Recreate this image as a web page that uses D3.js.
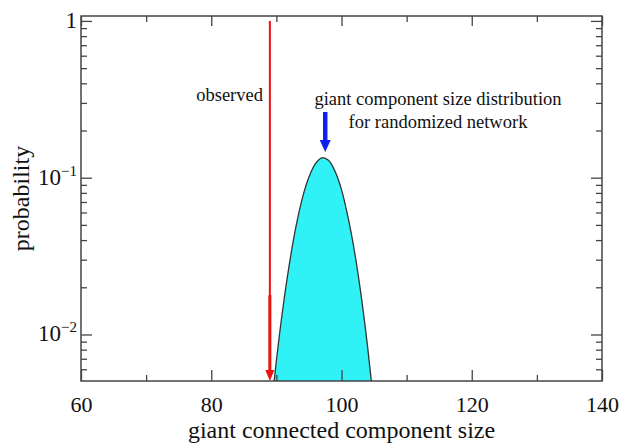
<!DOCTYPE html>
<html><head><meta charset="utf-8">
<script src="https://cdn.jsdelivr.net/npm/d3@7"></script>
<style>body{margin:0;background:#fff}svg{display:block}text{font-family:"Liberation Serif","DejaVu Serif",serif;fill:#111}</style>
</head><body>
<script>
// data
const sizes = [89, 90, 91, 92, 93, 94, 95, 96, 97, 98, 99, 100, 101, 102, 103, 104, 105, 106];
const probs = [0.0028, 0.0068, 0.0147, 0.0282, 0.0485, 0.0743, 0.101, 0.123, 0.134, 0.129, 0.110, 0.084, 0.056, 0.0337, 0.0179, 0.0084, 0.0035, 0.0013];
const observed = 89;
const peakSize = 97.5;
const xMajor = [60, 80, 100, 120, 140];
const xMinor = [70, 90, 110, 130];
const yMajor = [1, 0.1, 0.01];
const yMajorLabels = [["1", ""], ["10", "\u22121"], ["10", "\u22122"]];

const W = 619, H = 445;
const m = {l: 81, r: 17, t: 16, b: 64};
const svg = d3.select("body").append("svg").attr("width", W).attr("height", H);
const x = d3.scaleLinear().domain([60, 140]).range([m.l, W - m.r]);
const y = d3.scaleLog().domain([0.00505, 1.075]).range([H - m.b, m.t]);

svg.append("defs").append("clipPath").attr("id", "clip")
  .append("rect").attr("x", m.l).attr("y", m.t).attr("width", W - m.l - m.r).attr("height", H - m.t - m.b);

const pts = sizes.map((s, i) => [s, probs[i]]);
const g = svg.append("g").attr("clip-path", "url(#clip)");
g.append("path").datum(pts)
  .attr("d", d3.area().x(d => x(d[0])).y0(H - m.b + 5).y1(d => y(d[1])).curve(d3.curveCatmullRom))
  .attr("fill", "#30f2f6");
g.append("path").datum(pts)
  .attr("d", d3.line().x(d => x(d[0])).y(d => y(d[1])).curve(d3.curveCatmullRom))
  .attr("fill", "none").attr("stroke", "#333").attr("stroke-width", 1.3);

// frame
const frame = "#444";
svg.append("rect").attr("x", m.l).attr("y", m.t).attr("width", W - m.l - m.r).attr("height", H - m.t - m.b)
  .attr("fill", "none").attr("stroke", frame).attr("stroke-width", 1.5);

// axes with inward ticks
const gBottom = svg.append("g").attr("transform", `translate(0,${H - m.b})`);
gBottom.call(d3.axisBottom(x).tickValues(xMajor).tickSize(-11).tickPadding(15).tickFormat(d3.format("d")));
gBottom.append("g").call(d3.axisBottom(x).tickValues(xMinor).tickSize(-6).tickFormat(""));
const gTop = svg.append("g").attr("transform", `translate(0,${m.t})`);
gTop.call(d3.axisTop(x).tickValues(xMajor).tickSize(-10).tickFormat(""));
gTop.append("g").call(d3.axisTop(x).tickValues(xMinor).tickSize(-6).tickFormat(""));

const yMinor = [];
[0.001, 0.01, 0.1].forEach(dec => { for (let k = 2; k <= 9; k++) { const v = dec * k; if (v >= 0.00505 && v <= 1) yMinor.push(v); } });
const gLeft = svg.append("g").attr("transform", `translate(${m.l},0)`);
gLeft.call(d3.axisLeft(y).tickValues(yMajor).tickSize(-11).tickFormat(""));
gLeft.append("g").call(d3.axisLeft(y).tickValues(yMinor).tickSize(-6).tickFormat(""));
const gRight = svg.append("g").attr("transform", `translate(${W - m.r},0)`);
gRight.call(d3.axisRight(y).tickValues(yMajor).tickSize(-11).tickFormat(""));
gRight.append("g").call(d3.axisRight(y).tickValues(yMinor).tickSize(-6).tickFormat(""));

svg.selectAll(".domain").remove();
svg.selectAll(".tick line").attr("stroke", frame).attr("stroke-width", 1.3);
gBottom.selectAll(".tick text").attr("font-size", 22).attr("fill", "#111").attr("font-family", "Liberation Serif");

// y labels
yMajor.forEach((v, i) => {
  const t = svg.append("text").attr("x", m.l - 4).attr("y", y(v) + 7).attr("text-anchor", "end").attr("font-size", 23);
  t.append("tspan").text(yMajorLabels[i][0]);
  if (yMajorLabels[i][1]) t.append("tspan").attr("font-size", 15).attr("dy", -9).text(yMajorLabels[i][1]);
});

// axis titles
svg.append("text").attr("x", (m.l + W - m.r) / 2).attr("y", 438).attr("text-anchor", "middle").attr("font-size", 24)
  .text("giant connected component size");
svg.append("text").attr("transform", `translate(29,${(m.t + H - m.b) / 2}) rotate(-90)`).attr("text-anchor", "middle")
  .attr("font-size", 24).text("probability");

// observed red arrow
const ox = x(observed);
svg.append("line").attr("x1", ox).attr("x2", ox).attr("y1", y(1)).attr("y2", H - m.b - 8)
  .attr("stroke", "#f01010").attr("stroke-width", 2);
svg.append("line").attr("x1", ox).attr("x2", ox).attr("y1", y(0.0178)).attr("y2", H - m.b - 8)
  .attr("stroke", "#f01010").attr("stroke-width", 3);
svg.append("path").attr("d", `M${ox - 4.5},${H - m.b - 11} L${ox + 4.5},${H - m.b - 11} L${ox},${H - m.b} Z`).attr("fill", "#f01010");

// blue arrow
const bx = x(peakSize);
svg.append("line").attr("x1", bx).attr("x2", bx).attr("y1", 112).attr("y2", 142).attr("stroke", "#1020f0").attr("stroke-width", 4.5);
svg.append("path").attr("d", `M${bx - 5.5},${140} L${bx + 5.5},${140} L${bx},${152} Z`).attr("fill", "#1020f0");

svg.append("text").attr("x", 263).attr("y", 101).attr("text-anchor", "end").attr("font-size", 18.5).text("observed");
svg.append("text").attr("x", 438).attr("y", 105).attr("text-anchor", "middle").attr("font-size", 18.5).text("giant component size distribution");
svg.append("text").attr("x", 438).attr("y", 128).attr("text-anchor", "middle").attr("font-size", 18.5).text("for randomized network");
</script>
</body></html>
